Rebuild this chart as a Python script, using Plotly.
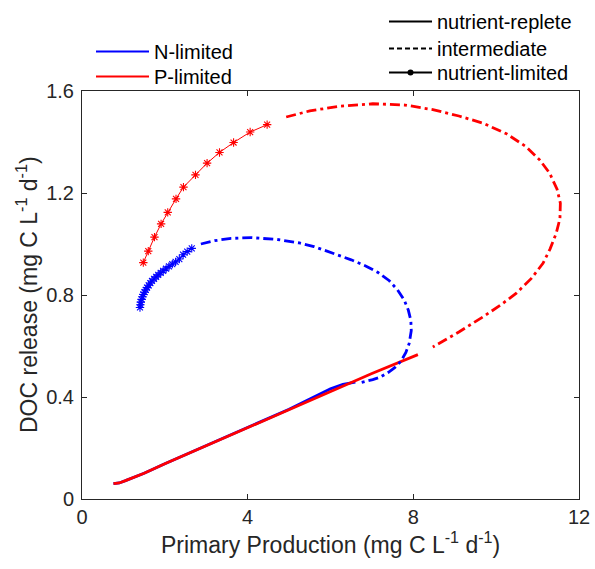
import plotly.graph_objects as go

# ---- N-limited (blue) trajectory ----
n_replete_x = [0.76, 0.90, 1.05, 1.20, 1.50, 2.00, 3.00, 4.00, 5.00, 5.50, 6.00, 6.30, 6.60]
n_replete_y = [0.060, 0.063, 0.072, 0.082, 0.101, 0.138, 0.209, 0.280, 0.352, 0.392, 0.432, 0.450, 0.458]

n_inter_x = [2.87, 3.20, 3.60, 4.08, 4.70, 5.25, 5.60, 6.05, 6.50, 6.86, 7.15, 7.42, 7.62, 7.78,
             7.88, 7.94, 7.95, 7.90, 7.82, 7.70, 7.55, 7.40, 7.20, 7.02, 6.75]
n_inter_y = [1.000, 1.013, 1.022, 1.025, 1.018, 1.004, 0.990, 0.964, 0.938, 0.913, 0.888, 0.856, 0.820, 0.780,
             0.740, 0.700, 0.660, 0.610, 0.575, 0.540, 0.515, 0.497, 0.478, 0.468, 0.457]

n_limited_x = [1.40, 1.41, 1.42, 1.44, 1.46, 1.48, 1.51, 1.54, 1.57, 1.61, 1.65, 1.69, 1.74,
               1.79, 1.84, 1.90, 1.96, 2.03, 2.10, 2.18, 2.26, 2.35, 2.44, 2.54, 2.65]
n_limited_y = [0.751, 0.762, 0.772, 0.783, 0.793, 0.802, 0.811, 0.820, 0.829, 0.838, 0.847, 0.855, 0.863,
               0.871, 0.879, 0.887, 0.895, 0.903, 0.912, 0.921, 0.930, 0.941, 0.958, 0.970, 0.983]

# ---- P-limited (red) trajectory ----
p_replete_x = [0.76, 0.90, 1.05, 1.20, 1.50, 2.00, 3.00, 4.00, 5.00, 6.00, 7.00, 8.11]
p_replete_y = [0.060, 0.063, 0.072, 0.082, 0.101, 0.138, 0.209, 0.280, 0.352, 0.422, 0.492, 0.566]

p_inter_x = [4.93, 5.50, 6.20, 7.02, 7.80, 8.47, 9.10, 9.68, 10.25, 10.72, 11.05, 11.29, 11.47, 11.55,
             11.54, 11.45, 11.30, 11.13, 10.85, 10.48, 10.10, 9.68, 9.10, 8.47]
p_inter_y = [1.498, 1.522, 1.540, 1.550, 1.545, 1.527, 1.502, 1.474, 1.432, 1.382, 1.330, 1.278, 1.215, 1.160,
             1.100, 1.042, 0.980, 0.924, 0.865, 0.806, 0.760, 0.714, 0.655, 0.596]

p_limited_x = [1.48, 1.60, 1.75, 1.91, 2.07, 2.27, 2.45, 2.74, 3.02, 3.32, 3.66, 4.06, 4.47]
p_limited_y = [0.927, 0.972, 1.027, 1.079, 1.124, 1.177, 1.223, 1.271, 1.317, 1.359, 1.398, 1.439, 1.468]

x_ticks = [0, 4, 8, 12]
y_ticks = [0, 0.4, 0.8, 1.2, 1.6]
y_tick_text = ["0", "0.4", "0.8", "1.2", "1.6"]

BLUE = "#0000FF"
RED = "#FF0000"
INK = "#262626"
FONT = "Liberation Sans, Arial, sans-serif"
DASHDOT = "10px,4px,3px,4px"

W, H = 595, 569
M_L, M_R, M_T, M_B = 82, 16, 91, 70

fig = go.Figure()

# curves
fig.add_trace(go.Scatter(x=n_replete_x, y=n_replete_y, mode="lines",
                         line=dict(color=BLUE, width=2.8), showlegend=False))
fig.add_trace(go.Scatter(x=p_replete_x, y=p_replete_y, mode="lines",
                         line=dict(color=RED, width=2.8), showlegend=False))
fig.add_trace(go.Scatter(x=n_inter_x, y=n_inter_y, mode="lines",
                         line=dict(color=BLUE, width=2.8, dash=DASHDOT), showlegend=False))
fig.add_trace(go.Scatter(x=p_inter_x, y=p_inter_y, mode="lines",
                         line=dict(color=RED, width=2.8, dash=DASHDOT), showlegend=False))
fig.add_trace(go.Scatter(x=n_limited_x, y=n_limited_y, mode="lines+markers",
                         line=dict(color=BLUE, width=1),
                         marker=dict(symbol="asterisk-open", size=7,
                                     line=dict(color=BLUE, width=1.1)),
                         showlegend=False))
fig.add_trace(go.Scatter(x=p_limited_x, y=p_limited_y, mode="lines+markers",
                         line=dict(color=RED, width=1),
                         marker=dict(symbol="asterisk-open", size=7,
                                     line=dict(color=RED, width=1.1)),
                         showlegend=False))

# legend entries, one legend box per entry so each row can be placed freely
legend_entries = [
    # name, line style, marker, legend id, (left px, row centre px), symbol width
    ("N-limited", dict(color=BLUE, width=2.2), None, "legend", (96, 50), 53),
    ("P-limited", dict(color=RED, width=2.2), None, "legend2", (96, 75), 53),
    ("nutrient-replete", dict(color="black", width=2.2), None, "legend3", (389, 20), 43),
    ("intermediate", dict(color="black", width=2.2, dash="5px,3px"), None, "legend4", (389, 47), 43),
    ("nutrient-limited", dict(color="black", width=2.2),
     dict(symbol="circle", size=6, color="black"), "legend5", (389, 71), 43),
]

legend_font = dict(family=FONT, size=20, color="black")
legend_layout = {}
for name, line, marker, lid, (lx, cy), iw in legend_entries:
    fig.add_trace(go.Scatter(x=[None], y=[None], mode="lines+markers" if marker else "lines",
                             name=name, line=line, marker=marker, legend=lid))
    legend_layout[lid] = dict(
        x=(lx - 5) / W, y=1 - (cy - 18) / H, xref="container", yref="container",
        xanchor="left", yanchor="top", font=legend_font, itemwidth=iw,
        bgcolor="rgba(0,0,0,0)", borderwidth=0,
    )

axis_common = dict(
    showline=True, linecolor=INK, linewidth=1, mirror="ticks",
    ticks="inside", ticklen=5, tickwidth=1, tickcolor=INK,
    showgrid=False, zeroline=False,
    tickfont=dict(family=FONT, size=20, color=INK),
)

fig.update_xaxes(range=[0, 12], tickvals=x_ticks, ticktext=[str(v) for v in x_ticks], **axis_common)
fig.update_yaxes(range=[0, 1.6], tickvals=y_ticks, ticktext=y_tick_text, ticklabelstandoff=3,
                 **axis_common)

title_font = dict(family=FONT, size=23, color=INK)
fig.add_annotation(text="Primary Production (mg C L<sup>-1</sup> d<sup>-1</sup>)",
                   xref="paper", yref="paper", x=0.5, y=0, yshift=-44,
                   xanchor="center", yanchor="middle", showarrow=False, font=title_font)
fig.add_annotation(text="DOC release (mg C L<sup>-1</sup> d<sup>-1</sup>)",
                   xref="paper", yref="paper", x=0, xshift=-55, y=0.5,
                   xanchor="center", yanchor="middle", textangle=-90, showarrow=False,
                   font=title_font)

fig.update_layout(
    width=W, height=H,
    margin=dict(l=M_L, r=M_R, t=M_T, b=M_B, autoexpand=False),
    paper_bgcolor="white", plot_bgcolor="white",
    font=dict(family=FONT, color=INK),
    **legend_layout,
)

fig.write_html("out.html")
